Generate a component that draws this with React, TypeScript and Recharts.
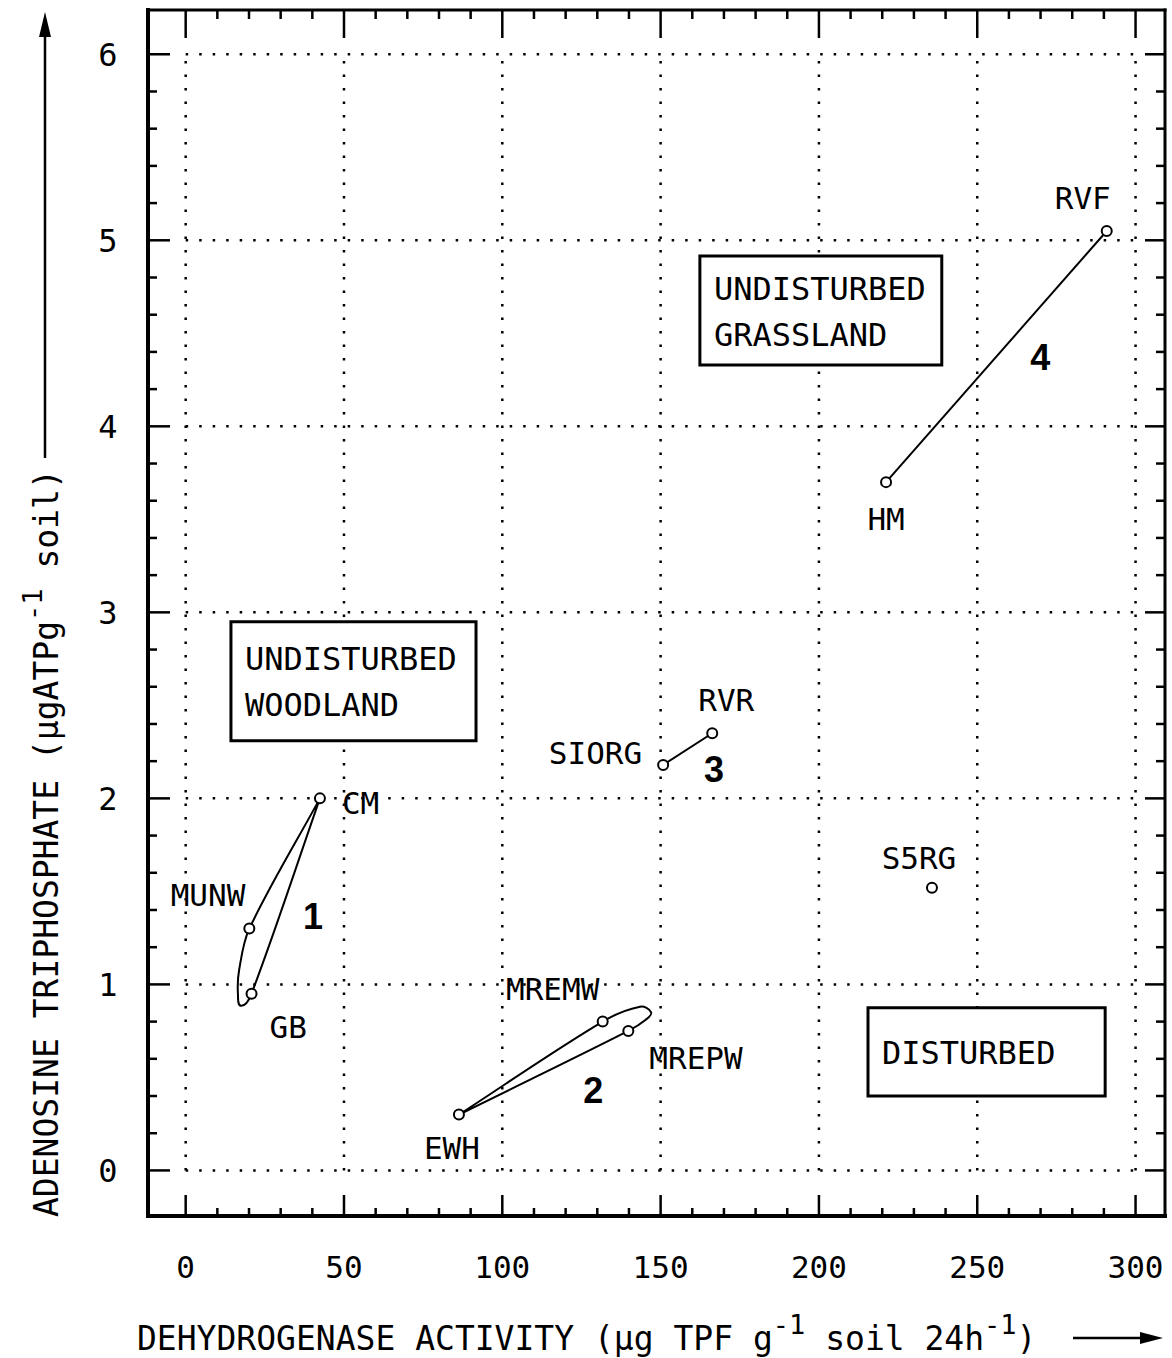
import React from 'react';
import { ComposedChart, Scatter, XAxis, YAxis, ReferenceLine, ReferenceArea } from 'recharts';

const MONO = '"DejaVu Sans Mono", monospace';
const BOLD = '"Liberation Sans", Arial, sans-serif';

// axis ranges (frame is a little wider than the 0..300 / 0..6 grid)
const xDomain = [-11.9, 309.3];
const yDomain = [-0.245, 6.238];

const xMajor = [0, 50, 100, 150, 200, 250, 300];
const xTicks = [0, 10, 20, 30, 40, 50, 60, 70, 80, 90, 100, 110, 120, 130, 140, 150, 160, 170, 180, 190, 200,
  210, 220, 230, 240, 250, 260, 270, 280, 290, 300];
const yMajor = [0, 1, 2, 3, 4, 5, 6];
const yTicks = [0, 0.2, 0.4, 0.6, 0.8, 1, 1.2, 1.4, 1.6, 1.8, 2, 2.2, 2.4, 2.6, 2.8, 3, 3.2, 3.4, 3.6, 3.8, 4,
  4.2, 4.4, 4.6, 4.8, 5, 5.2, 5.4, 5.6, 5.8, 6];

// sites: dehydrogenase activity (x) vs ATP (y)
const sites = [
  { name: 'CM', x: 42.4, y: 2.0 },
  { name: 'MUNW', x: 20.1, y: 1.3 },
  { name: 'GB', x: 20.8, y: 0.95 },
  { name: 'EWH', x: 86.3, y: 0.3 },
  { name: 'MREMW', x: 131.7, y: 0.8 },
  { name: 'MREPW', x: 139.8, y: 0.75 },
  { name: 'SIORG', x: 150.8, y: 2.18 },
  { name: 'RVR', x: 166.3, y: 2.35 },
  { name: 'HM', x: 221.2, y: 3.7 },
  { name: 'RVF', x: 290.9, y: 5.05 },
  { name: 'S5RG', x: 235.7, y: 1.52 },
];

const site = (n: string) => sites.find((s) => s.name === n)!;

// group envelopes (hand drawn loops round the sites)
const group1 = [site('CM'), site('MUNW'), { x: 16.9, y: 1.08 }, { x: 16.5, y: 0.95 }, { x: 17.6, y: 0.885 },
  site('GB'), site('CM')];
const group2 = [site('EWH'), site('MREMW'), { x: 143.5, y: 0.88 }, { x: 147.0, y: 0.85 }, { x: 145.3, y: 0.81 },
  site('MREPW'), site('EWH')];
const group3 = [site('SIORG'), site('RVR')];
const group4 = [site('HM'), site('RVF')];

const groupNumbers = [
  { label: '1', x: 40.2, y: 1.37 },
  { label: '2', x: 128.7, y: 0.43 },
  { label: '3', x: 166.9, y: 2.16 },
  { label: '4', x: 269.9, y: 4.37 },
];

const zones = [
  { lines: ['UNDISTURBED', 'GRASSLAND'], x1: 162.4, x2: 238.8, y1: 4.33, y2: 4.915 },
  { lines: ['UNDISTURBED', 'WOODLAND'], x1: 14.3, x2: 91.7, y1: 2.31, y2: 2.95 },
  { lines: ['DISTURBED'], x1: 215.5, x2: 290.4, y1: 0.4, y2: 0.875 },
];

type Anchor = 'start' | 'middle' | 'end';
const labelOffsets: Record<string, { dx: number; dy: number; anchor: Anchor }> = {
  CM: { dx: 22, dy: 16, anchor: 'start' },
  MUNW: { dx: -4, dy: -23, anchor: 'end' },
  GB: { dx: 18, dy: 44, anchor: 'start' },
  EWH: { dx: -7, dy: 44, anchor: 'middle' },
  MREMW: { dx: -50, dy: -22, anchor: 'middle' },
  MREPW: { dx: 21, dy: 38, anchor: 'start' },
  SIORG: { dx: -21, dy: -1, anchor: 'end' },
  RVR: { dx: 14, dy: -22, anchor: 'middle' },
  HM: { dx: 0, dy: 48, anchor: 'middle' },
  RVF: { dx: -24, dy: -22, anchor: 'middle' },
  S5RG: { dx: -13, dy: -19, anchor: 'middle' },
};

// smooth curve factory through every point, tangents scaled to segment length
const smoothLoop = (context: any) => {
  let pts: number[][] = [];
  const unit = (a: number[], b: number[]) => {
    const dx = b[0] - a[0];
    const dy = b[1] - a[1];
    const l = Math.hypot(dx, dy) || 1;
    return [dx / l, dy / l];
  };
  return {
    areaStart() {},
    areaEnd() {},
    lineStart() {
      pts = [];
    },
    point(x: number, y: number) {
      pts.push([+x, +y]);
    },
    lineEnd() {
      if (!pts.length) return;
      context.moveTo(pts[0][0], pts[0][1]);
      for (let i = 0; i < pts.length - 1; i++) {
        const p0 = pts[i - 1] || pts[i];
        const p1 = pts[i];
        const p2 = pts[i + 1];
        const p3 = pts[i + 2] || p2;
        const len = Math.hypot(p2[0] - p1[0], p2[1] - p1[1]) / 3;
        const t1 = unit(p0, p2);
        const t2 = unit(p1, p3);
        context.bezierCurveTo(
          p1[0] + t1[0] * len, p1[1] + t1[1] * len,
          p2[0] - t2[0] * len, p2[1] - t2[1] * len,
          p2[0], p2[1]
        );
      }
    },
  };
};

const isMajorY = (v: number) => Math.abs(v - Math.round(v)) < 1e-6;

const BottomTick = (p: any) => {
  const v = p.payload.value;
  const major = xMajor.includes(v);
  return (
    <g>
      <line x1={p.x} x2={p.x} y1={p.y} y2={p.y - (major ? 21 : 8)} stroke="#000" strokeWidth={2.5} />
      {major && (
        <text x={p.x} y={p.y + 62} textAnchor="middle" fontFamily={MONO} fontSize={31} fill="#000">{v}</text>
      )}
    </g>
  );
};

const TopTick = (p: any) => {
  const major = xMajor.includes(p.payload.value);
  return <line x1={p.x} x2={p.x} y1={p.y} y2={p.y + (major ? 28 : 9)} stroke="#000" strokeWidth={2.5} />;
};

const LeftTick = (p: any) => {
  const v = p.payload.value;
  const major = isMajorY(v);
  return (
    <g>
      <line x1={p.x} x2={p.x + (major ? 22 : 9)} y1={p.y} y2={p.y} stroke="#000" strokeWidth={2.5} />
      {major && (
        <text x={p.x - 40} y={p.y + 12} textAnchor="middle" fontFamily={MONO} fontSize={32} fill="#000">{Math.round(v)}</text>
      )}
    </g>
  );
};

const RightTick = (p: any) => {
  const major = isMajorY(p.payload.value);
  return <line x1={p.x} x2={p.x - (major ? 20 : 9)} y1={p.y} y2={p.y} stroke="#000" strokeWidth={2.5} />;
};

const XTitle = (p: any) => {
  const vb = p.viewBox;
  const x = vb.x - 11;
  const y = vb.y + 134;
  const ay = vb.y + 122;
  return (
    <g>
      <text x={x} y={y} fontFamily={MONO} fontSize={33} fill="#000">
        DEHYDROGENASE ACTIVITY (µg TPF g
        <tspan fontSize={27} dy={-16}>-1</tspan>
        <tspan dy={16}> soil 24h</tspan>
        <tspan fontSize={27} dy={-16}>-1</tspan>
        <tspan dy={16}>)</tspan>
      </text>
      <line x1={1073} x2={1145} y1={ay} y2={ay} stroke="#000" strokeWidth={2.5} />
      <polygon points={`1163,${ay} 1140,${ay - 6} 1140,${ay + 6}`} fill="#000" />
    </g>
  );
};

const YTitle = (p: any) => {
  const vb = p.viewBox;
  const bx = vb.x - 30;
  const by = vb.y + vb.height + 1;
  const ax = bx - 13;
  return (
    <g>
      <text x={bx} y={by} transform={`rotate(-90 ${bx} ${by})`} fontFamily={MONO} fontSize={33} fill="#000">
        ADENOSINE TRIPHOSPHATE (µgATPg
        <tspan fontSize={27} dy={-16}>-1</tspan>
        <tspan dy={16}> soil)</tspan>
      </text>
      <line x1={ax} x2={ax} y1={458} y2={30} stroke="#000" strokeWidth={2.5} />
      <polygon points={`${ax},12 ${ax - 6},37 ${ax + 6},37`} fill="#000" />
    </g>
  );
};

const SiteMarker = (p: any) => {
  const off = labelOffsets[p.payload.name];
  return (
    <g>
      <circle cx={p.cx} cy={p.cy} r={5} fill="#fff" stroke="#000" strokeWidth={2} />
      <text x={p.cx + off.dx} y={p.cy + off.dy} textAnchor={off.anchor} fontFamily={MONO} fontSize={31} fill="#000">
        {p.payload.name}
      </text>
    </g>
  );
};

const GroupNumber = (p: any) => (
  <text x={p.cx} y={p.cy + 13} textAnchor="middle" fontFamily={BOLD} fontWeight="bold" fontSize={36} fill="#000">
    {p.payload.label}
  </text>
);

const zoneLabel = (lines: string[]) => (p: any) => {
  const vb = p.viewBox;
  const mid = vb.y + vb.height / 2;
  return (
    <g>
      {lines.map((t, i) => (
        <text key={t} x={vb.x + 14} y={mid + 12 + (i - (lines.length - 1) / 2) * 46} fontFamily={MONO} fontSize={32} fill="#000">
          {t}
        </text>
      ))}
    </g>
  );
};

const NoShape = () => <g />;
const frame = { stroke: '#000', strokeWidth: 4, strokeLinecap: 'square' as const };
const dots = { stroke: '#000', strokeWidth: 2.5, strokeDasharray: '2.5 11' };
const outline = { stroke: '#000', strokeWidth: 2 };

export default function App() {
  return (
    <div style={{ position: 'fixed', left: 0, top: 0, background: '#fff' }}>
      <ComposedChart width={1172} height={1358} margin={{ top: 8, right: 5, bottom: 82, left: 88 }}>
        <XAxis type="number" dataKey="x" domain={xDomain} allowDataOverflow ticks={xTicks} interval={0}
          tickSize={0} tickMargin={0} tickLine={false} height={60} tick={(p: any) => <BottomTick {...p} />}
          axisLine={frame} label={XTitle} />
        <XAxis xAxisId="top" orientation="top" type="number" dataKey="x" domain={xDomain} allowDataOverflow
          ticks={xTicks} interval={0} tickSize={0} tickMargin={0} tickLine={false} height={2}
          tick={(p: any) => <TopTick {...p} />} axisLine={{ ...frame, strokeWidth: 3 }} />
        <YAxis type="number" dataKey="y" domain={yDomain} allowDataOverflow ticks={yTicks} interval={0}
          tickSize={0} tickMargin={0} tickLine={false} width={60} tick={(p: any) => <LeftTick {...p} />}
          axisLine={frame} label={YTitle} />
        <YAxis yAxisId="right" orientation="right" type="number" dataKey="y" domain={yDomain} allowDataOverflow
          ticks={yTicks} interval={0} tickSize={0} tickMargin={0} tickLine={false} width={2}
          tick={(p: any) => <RightTick {...p} />} axisLine={{ ...frame, strokeWidth: 3 }} />

        {xMajor.map((v) => (
          <ReferenceLine key={'gx' + v} zIndex={-50}
            segment={[{ x: v, y: yMajor[0] }, { x: v, y: yMajor[yMajor.length - 1] }]} {...dots} />
        ))}
        {yMajor.map((v) => (
          <ReferenceLine key={'gy' + v} zIndex={-50}
            segment={[{ x: xMajor[0], y: v }, { x: xMajor[xMajor.length - 1], y: v }]} {...dots} />
        ))}

        {zones.map((z) => (
          <ReferenceArea key={z.lines.join()} zIndex={50} x1={z.x1} x2={z.x2} y1={z.y1} y2={z.y2}
            fill="#fff" fillOpacity={1} stroke="#000" strokeWidth={3} label={zoneLabel(z.lines)} />
        ))}

        <Scatter data={group1} line={outline} lineJointType={smoothLoop} shape={NoShape} isAnimationActive={false} />
        <Scatter data={group2} line={outline} lineJointType={smoothLoop} shape={NoShape} isAnimationActive={false} />
        <Scatter data={group3} line={outline} lineJointType="linear" shape={NoShape} isAnimationActive={false} />
        <Scatter data={group4} line={outline} lineJointType="linear" shape={NoShape} isAnimationActive={false} />
        <Scatter data={sites} shape={SiteMarker} isAnimationActive={false} />
        <Scatter data={groupNumbers} shape={GroupNumber} isAnimationActive={false} />
      </ComposedChart>
    </div>
  );
}
